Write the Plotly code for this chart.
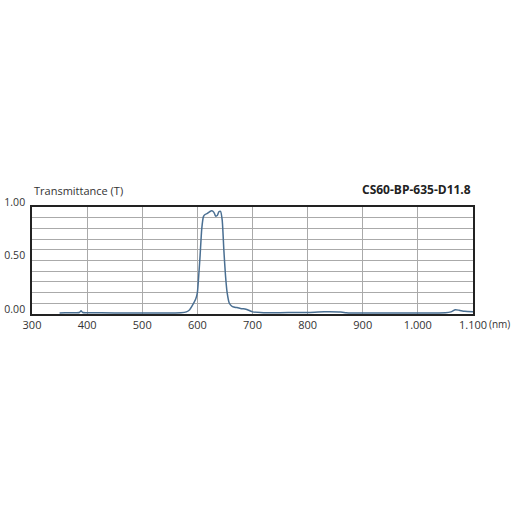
import plotly.graph_objects as go

# wavelength (nm) and transmittance
wavelength = [350, 360, 380, 386, 389, 392, 400, 450, 500, 550, 570, 580, 586, 592, 597,
              600, 603, 605, 608, 611, 614, 618, 622, 626, 630, 633, 636, 639, 642, 645,
              648, 651, 654, 658, 662, 666, 672, 680, 688, 695, 700, 720, 750, 780, 800,
              830, 860, 870, 880, 900, 950, 1000, 1050, 1060, 1068, 1075, 1085, 1100]
transmittance = [0.01, 0.012, 0.012, 0.014, 0.03, 0.014, 0.012, 0.01, 0.01, 0.01, 0.012, 0.02,
                 0.04, 0.09, 0.14, 0.2, 0.4, 0.55, 0.8, 0.91, 0.93, 0.94, 0.955, 0.965, 0.95,
                 0.915, 0.92, 0.955, 0.96, 0.88, 0.6, 0.36, 0.2, 0.1, 0.075, 0.065, 0.06, 0.05,
                 0.045, 0.03, 0.02, 0.012, 0.012, 0.015, 0.015, 0.02, 0.018, 0.012, 0.01, 0.01,
                 0.01, 0.01, 0.012, 0.02, 0.04, 0.035, 0.025, 0.02]

x_ticks = [300, 400, 500, 600, 700, 800, 900, 1000, 1100]
x_labels = ["300", "400", "500", "600", "700", "800", "900", "1.000", "1.100"]
y_ticks = [0, 0.5, 1.0]
y_labels = ["0.00", "0.50", "1.00"]

font = "Open Sans"

fig = go.Figure()
fig.add_trace(go.Scatter(
    x=wavelength, y=transmittance, mode="lines",
    line=dict(color="#4a6f92", width=1.5, shape="spline", smoothing=0.6),
    showlegend=False, hoverinfo="skip"))

fig.update_layout(
    width=512, height=512,
    margin=dict(l=32, r=39, t=207, b=198),
    paper_bgcolor="white", plot_bgcolor="white",
    font=dict(family=font, size=11, color="#333333"),
    xaxis=dict(range=[300, 1100], tickvals=x_ticks, ticktext=x_labels,
               showgrid=True, gridcolor="#aaaaaa", gridwidth=1,
               showline=True, linecolor="#222222", linewidth=1.5, mirror=True,
               ticks="", zeroline=False, ticklabelstandoff=0, automargin=False),
    yaxis=dict(range=[0, 1.0], tickvals=y_ticks, ticktext=y_labels,
               showgrid=True, gridcolor="#aaaaaa", gridwidth=1,
               minor=dict(dtick=0.1, showgrid=True, gridcolor="#aaaaaa", gridwidth=1),
               showline=True, linecolor="#222222", linewidth=1.5, mirror=True,
               ticks="", zeroline=False, ticklabelstandoff=3, ticklabelshift=-5,
               automargin=False, tickfont=dict(size=10.5)),
    annotations=[
        dict(text="Transmittance (T)", x=0, y=1, xref="paper", yref="paper",
             xanchor="left", yanchor="bottom", yshift=7, showarrow=False,
             font=dict(family=font, size=11, color="#333333")),
        dict(text="<b>CS60-BP-635-D11.8</b>", x=1, y=1, xref="paper", yref="paper",
             xanchor="right", yanchor="bottom", yshift=7, showarrow=False,
             font=dict(family=font, size=12, color="#222222")),
        dict(text="(nm)", x=1, y=0, xref="paper", yref="paper",
             xanchor="right", yanchor="top", xshift=39, yshift=-1, showarrow=False,
             font=dict(family=font, size=10, color="#333333")),
    ],
)

# drop the default body margin so the 512px figure fills the window exactly
fig.write_html("out.html", config={"displayModeBar": False},
               post_script="document.body.style.margin='0';document.body.style.overflow='hidden';")
